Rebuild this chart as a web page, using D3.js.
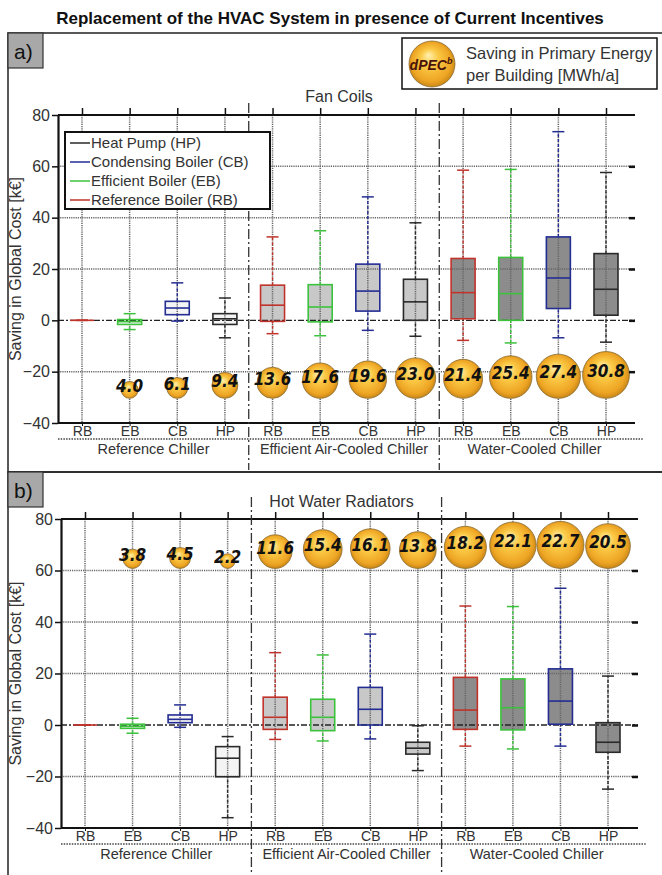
<!DOCTYPE html>
<html>
<head>
<meta charset="utf-8">
<script src="https://cdn.jsdelivr.net/npm/d3@7"></script>
<style>
  body { margin: 0; background: #fff; }
  text { font-family: "Liberation Sans", Arial, sans-serif; fill: #333; }
</style>
</head>
<body>
<script>
const boilerTypes = ["RB", "EB", "CB", "HP"];
const chillerGroups = ["Reference Chiller", "Efficient Air-Cooled Chiller", "Water-Cooled Chiller"];
const legendLabels = ["Heat Pump (HP)", "Condensing Boiler (CB)", "Efficient Boiler (EB)", "Reference Boiler (RB)"];
const yTicks = [-40, -20, 0, 20, 40, 60, 80];

// a) Fan Coils  -- saving in global cost [k€], box plot stats per category
const fanLow  = [0, -3.6, -0.3, -6.8, -5.2, -6.0, -3.9, -6.2, -7.8, -8.8, -6.8, -8.5];
const fanQ1   = [0, -1.6,  2.2, -1.6, -0.4, -0.6,  3.6,  0.0,  0.6,  0.0,  4.6,  2.0];
const fanMed  = [0, -0.5,  4.8,  0.6,  5.9,  5.2, 11.4,  7.2, 10.8, 10.4, 16.5, 12.1];
const fanQ3   = [0,  0.3,  7.4,  2.6, 13.7, 13.9, 21.9, 16.0, 24.1, 24.5, 32.5, 26.0];
const fanHigh = [0,  2.6, 14.6,  8.7, 32.5, 34.9, 48.1, 38.0, 58.5, 58.8, 73.5, 57.6];
const fanDpec = [null, 4.0, 6.1, 9.4, 13.6, 17.6, 19.6, 23.0, 21.4, 25.4, 27.4, 30.8];

// b) Hot Water Radiators
const radLow  = [0, -3.2, -0.9, -36.0, -5.6, -6.2, -5.4, -17.7, -8.2, -9.3, -8.2, -24.9];
const radQ1   = [0, -1.3,  0.9, -20.1, -1.7, -2.2,  0.0, -11.3, -1.7, -1.9,  0.3, -10.6];
const radMed  = [0, -0.5,  2.2, -12.9,  3.0,  3.0,  6.1,  -9.0,  5.8,  6.7,  9.3,  -6.7];
const radQ3   = [0,  0.3,  3.9,  -8.4, 10.8, 10.0, 14.6,  -6.7, 18.5, 17.9, 21.8,   0.9];
const radHigh = [0,  2.6,  7.8,  -4.5, 28.1, 27.2, 35.3,  -0.3, 46.2, 46.0, 53.1,  19.0];
const radDpec = [null, 3.8, 4.5, 2.2, 11.6, 15.4, 16.1, 13.8, 18.2, 22.1, 22.7, 20.5];

const boilerColors = ["#c0332b", "#3cc23c", "#232d92", "#2a2a2a"];
const groupFills = ["#f4f4f4", "#c8c8c8", "#8c8c8c"];

const svg = d3.select("body").append("svg")
    .attr("width", 662)
    .attr("height", 875);

const defs = svg.append("defs");
const grad = defs.append("radialGradient").attr("id", "gold")
    .attr("cx", "50%").attr("cy", "50%").attr("r", "55%")
    .attr("fx", "42%").attr("fy", "30%");
grad.append("stop").attr("offset", "0%").attr("stop-color", "#fff0b0");
grad.append("stop").attr("offset", "35%").attr("stop-color", "#fbc945");
grad.append("stop").attr("offset", "78%").attr("stop-color", "#eda423");
grad.append("stop").attr("offset", "100%").attr("stop-color", "#b97a12");

// title
svg.append("text")
    .attr("x", 330).attr("y", 24)
    .attr("text-anchor", "middle")
    .style("font-size", "17px").style("font-weight", "bold").style("fill", "#111")
    .text("Replacement of the HVAC System in presence of Current Incentives");

const fanCfg = {
    top: 33, bottom: 472, tag: "a)",
    x0: 58, x1: 635, xFirst: 82, xLast: 606, yTop: 115, yBottom: 423,
    divTop: 103, divBottom: 470, bubbleBase: -30.4, dpecMax: 31, rMax: 23.5,
    title: "Fan Coils", titleY: 102
};
const radCfg = {
    top: 472, bottom: 900, tag: "b)",
    x0: 61, x1: 638, xFirst: 85, xLast: 608, yTop: 519, yBottom: 828,
    divTop: 497, divBottom: 875, bubbleBase: 60.8, dpecMax: 23, rMax: 23.7,
    title: "Hot Water Radiators", titleY: 507
};

drawPanel(fanCfg, fanLow, fanQ1, fanMed, fanQ3, fanHigh, fanDpec);
drawPanel(radCfg, radLow, radQ1, radMed, radQ3, radHigh, radDpec);

// legend for boiler colours (panel a)
const leg = svg.append("g");
leg.append("rect").attr("x", 65).attr("y", 132).attr("width", 205).attr("height", 77)
    .attr("fill", "#fff").attr("stroke", "#111").attr("stroke-width", 2);
legendLabels.forEach((lab, k) => {
    const yy = 143 + k * 19;
    leg.append("line").attr("x1", 70).attr("x2", 90).attr("y1", yy).attr("y2", yy)
        .attr("stroke", boilerColors[3 - k]).attr("stroke-width", 1.5);
    leg.append("text").attr("x", 91).attr("y", yy).attr("dy", "0.36em")
        .style("font-size", "15px").text(lab);
});

// dPEC bubble legend
const bl = svg.append("g");
bl.append("rect").attr("x", 402).attr("y", 38).attr("width", 255).attr("height", 51)
    .attr("fill", "#fff").attr("stroke", "#111").attr("stroke-width", 1.5);
bl.append("circle").attr("cx", 432).attr("cy", 64).attr("r", 23)
    .attr("fill", "url(#gold)").attr("stroke", "#8a6d35").attr("stroke-width", 0.8);
const dp = bl.append("text").attr("x", 431).attr("y", 70).attr("text-anchor", "middle")
    .style("font-size", "14px").style("font-weight", "bold").style("font-style", "italic")
    .style("fill", "#4a1408");
dp.append("tspan").text("dPEC");
dp.append("tspan").attr("dy", "-6").style("font-size", "9px").text("b");
bl.append("text").attr("x", 466).attr("y", 59).style("font-size", "16.5px").text("Saving in Primary Energy");
bl.append("text").attr("x", 466).attr("y", 81).style("font-size", "16.5px").text("per Building [MWh/a]");

function drawPanel(cfg, low, q1, med, q3, high, dpec) {
    const g = svg.append("g");
    const idx = d3.range(12);

    const x = d3.scalePoint().domain(idx).range([cfg.xFirst, cfg.xLast]);
    const y = d3.scaleLinear().domain([-40, 80]).range([cfg.yBottom, cfg.yTop]);
    const r = d3.scaleSqrt().domain([0, cfg.dpecMax]).range([0, cfg.rMax]);
    const half = 12;

    // frame + tag
    g.append("rect").attr("x", 8).attr("y", cfg.top).attr("width", 700)
        .attr("height", cfg.bottom - cfg.top)
        .attr("fill", "none").attr("stroke", "#222").attr("stroke-width", 1.5);
    g.append("rect").attr("x", 8).attr("y", cfg.top).attr("width", 35).attr("height", 35)
        .attr("fill", "#a8a8a8").attr("stroke", "#333").attr("stroke-width", 1.2);
    g.append("text").attr("x", 14).attr("y", cfg.top + 26)
        .style("font-size", "21px").style("fill", "#111").text(cfg.tag);

    // box fills
    g.selectAll(".boxfill").data(idx).enter().append("rect")
        .attr("x", i => x(i) - half).attr("width", half * 2)
        .attr("y", i => y(q3[i])).attr("height", i => y(q1[i]) - y(q3[i]))
        .attr("fill", i => groupFills[Math.floor(i / 4)]);

    // grid
    const gridStyle = sel => sel.attr("stroke", "#666").attr("stroke-width", 1.5)
        .attr("stroke-dasharray", "1.2,1");
    g.selectAll(".vgrid").data(idx).enter().append("line")
        .attr("x1", i => x(i)).attr("x2", i => x(i))
        .attr("y1", cfg.yTop).attr("y2", cfg.yBottom)
        .call(gridStyle);
    g.selectAll(".hgrid").data([-20, 20, 40, 60]).enter().append("line")
        .attr("x1", cfg.x0).attr("x2", cfg.x1)
        .attr("y1", d => y(d)).attr("y2", d => y(d))
        .call(gridStyle);
    g.append("line")
        .attr("x1", cfg.x0).attr("x2", cfg.x1)
        .attr("y1", y(0)).attr("y2", y(0))
        .attr("stroke", "#222").attr("stroke-width", 1.3).attr("stroke-dasharray", "6,2,2,2");

    // whiskers (outside box only)
    g.selectAll(".wlow").data(idx).enter().append("line")
        .attr("x1", i => x(i)).attr("x2", i => x(i))
        .attr("y1", i => y(low[i])).attr("y2", i => y(q1[i]))
        .attr("stroke", i => boilerColors[i % 4]).attr("stroke-width", 1.4)
        .attr("stroke-dasharray", "3,2");
    g.selectAll(".whigh").data(idx).enter().append("line")
        .attr("x1", i => x(i)).attr("x2", i => x(i))
        .attr("y1", i => y(q3[i])).attr("y2", i => y(high[i]))
        .attr("stroke", i => boilerColors[i % 4]).attr("stroke-width", 1.4)
        .attr("stroke-dasharray", "3,2");
    [low, high].forEach(arr => {
        g.selectAll(null).data(idx).enter().append("line")
            .attr("x1", i => x(i) - 6).attr("x2", i => x(i) + 6)
            .attr("y1", i => y(arr[i])).attr("y2", i => y(arr[i]))
            .attr("stroke", i => boilerColors[i % 4]).attr("stroke-width", 1.5);
    });

    // box outlines + medians
    g.selectAll(".box").data(idx).enter().append("rect")
        .attr("x", i => x(i) - half).attr("width", half * 2)
        .attr("y", i => y(q3[i])).attr("height", i => y(q1[i]) - y(q3[i]))
        .attr("fill", "none")
        .attr("stroke", i => boilerColors[i % 4]).attr("stroke-width", 1.6);
    g.selectAll(".median").data(idx).enter().append("line")
        .attr("x1", i => x(i) - half).attr("x2", i => x(i) + half)
        .attr("y1", i => y(med[i])).attr("y2", i => y(med[i]))
        .attr("stroke", i => boilerColors[i % 4]).attr("stroke-width", 1.6);

    // dPEC bubbles
    const bub = idx.filter(i => dpec[i] != null);
    g.selectAll(".bubble").data(bub).enter().append("circle")
        .attr("cx", i => x(i))
        .attr("cy", i => y(cfg.bubbleBase) - r(dpec[i]))
        .attr("r", i => r(dpec[i]))
        .attr("fill", "url(#gold)").attr("stroke", "#8a6d35").attr("stroke-width", 0.8);
    g.selectAll(".blabel").data(bub).enter().append("text")
        .attr("x", i => x(i))
        .attr("y", i => y(cfg.bubbleBase) - r(dpec[i]) + 2)
        .attr("text-anchor", "middle")
        .style("font-family", '"DejaVu Sans Condensed", sans-serif')
        .style("font-size", "17px").style("font-weight", "bold").style("font-style", "italic")
        .style("fill", "#111")
        .text(i => dpec[i].toFixed(1));

    // left axis
    const ax = g.append("g").attr("transform", `translate(${cfg.x0},0)`)
        .call(d3.axisLeft(y).tickValues(yTicks).tickSize(6).tickSizeOuter(0).tickPadding(2));
    ax.select(".domain").attr("stroke", "#111").attr("stroke-width", 2.2);
    ax.selectAll(".tick line").attr("stroke", "#111").attr("stroke-width", 1.5);
    ax.selectAll(".tick text").style("font-size", "16px").style("font-family", '"Liberation Sans", Arial, sans-serif').attr("fill", "#333");

    // right inner ticks
    const rx = g.append("g").attr("transform", `translate(${cfg.x1},0)`)
        .call(d3.axisLeft(y).tickValues([-20, 0, 20, 40, 60]).tickSize(6).tickFormat(""));
    rx.select(".domain").remove();
    rx.selectAll(".tick line").attr("stroke", "#111").attr("stroke-width", 2.5);

    // top line + ticks
    g.append("line").attr("x1", cfg.x0).attr("x2", cfg.x1)
        .attr("y1", cfg.yTop).attr("y2", cfg.yTop)
        .attr("stroke", "#111").attr("stroke-width", 2.2);
    const tx = g.append("g").attr("transform", `translate(0,${cfg.yTop})`)
        .call(d3.axisTop(x).tickSize(7).tickSizeOuter(0).tickFormat(""));
    tx.select(".domain").remove();
    tx.selectAll(".tick line").attr("stroke", "#111").attr("stroke-width", 1.5);

    // bottom axis with boiler labels
    const bx = g.append("g").attr("transform", `translate(0,${cfg.yBottom})`)
        .call(d3.axisBottom(x).tickSize(3).tickPadding(0).tickSizeOuter(0)
            .tickFormat(i => boilerTypes[i % 4]));
    bx.select(".domain").remove();
    g.append("line").attr("x1", cfg.x0).attr("x2", cfg.x1)
        .attr("y1", cfg.yBottom).attr("y2", cfg.yBottom)
        .attr("stroke", "#111").attr("stroke-width", 2.2);
    bx.selectAll(".tick line").attr("stroke", "#111");
    bx.selectAll(".tick text")
        .style("font-size", "14px")
        .attr("fill", "#333");

    // dotted separator + chiller group labels
    g.append("line").attr("x1", cfg.x0).attr("x2", cfg.x1 + 8)
        .attr("y1", cfg.yBottom + 16).attr("y2", cfg.yBottom + 16)
        .attr("stroke", "#444").attr("stroke-width", 1.3).attr("stroke-dasharray", "1.5,1.2");
    g.selectAll(".glabel").data(chillerGroups).enter().append("text")
        .attr("x", (d, k) => (x(k * 4) + x(k * 4 + 3)) / 2)
        .attr("y", cfg.yBottom + 31)
        .attr("text-anchor", "middle")
        .style("font-size", "14.5px")
        .text(d => d);

    // group dividers
    g.selectAll(".divider").data([1, 2]).enter().append("line")
        .attr("x1", k => (x(k * 4 - 1) + x(k * 4)) / 2)
        .attr("x2", k => (x(k * 4 - 1) + x(k * 4)) / 2)
        .attr("y1", cfg.divTop).attr("y2", cfg.divBottom)
        .attr("stroke", "#333").attr("stroke-width", 1.3)
        .attr("stroke-dasharray", "10,3,2,3");

    // panel title
    g.append("text").attr("x", (x(4) + x(7)) / 2 - 5).attr("y", cfg.titleY)
        .attr("text-anchor", "middle").style("font-size", "16px")
        .text(cfg.title);

    // y-axis title
    g.append("text")
        .attr("transform", `translate(21,${(cfg.yTop + cfg.yBottom) / 2}) rotate(-90)`)
        .attr("text-anchor", "middle")
        .style("font-size", "16px")
        .text("Saving in Global Cost [k€]");
}
</script>
</body>
</html>
